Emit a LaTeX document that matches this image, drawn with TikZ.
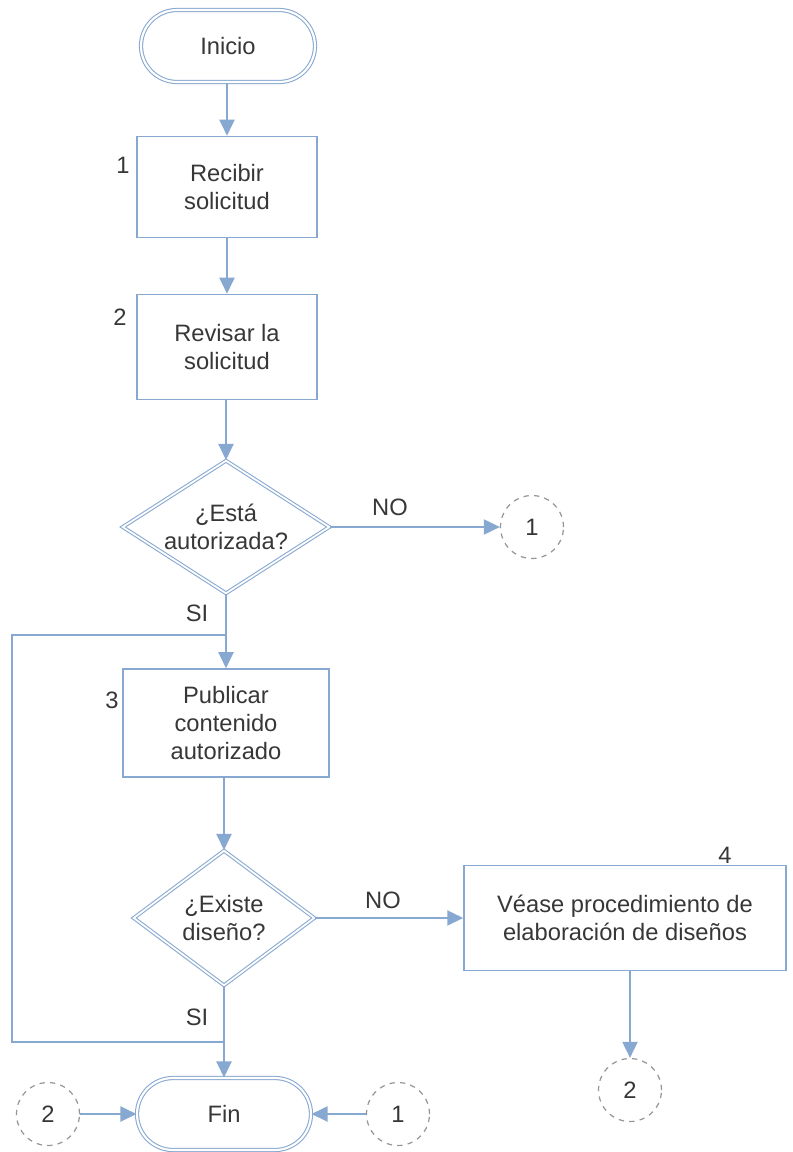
\documentclass[tikz,border=0pt]{standalone}
\usepackage{fontspec}
\setmainfont{Liberation Sans}
\usetikzlibrary{shapes.geometric, arrows.meta, positioning}
\definecolor{flowline}{RGB}{135, 168, 208}
\definecolor{conline}{RGB}{150, 150, 150}
\definecolor{txt}{RGB}{55, 55, 55}

\begin{document}
\begin{tikzpicture}[x=0.02cm, y=-0.02cm,
    every node/.style={font=\fontsize{13.5}{16}\selectfont, text=txt},
    term/.style={rectangle, rounded corners=0.72cm, draw=flowline, double=white,
                 double distance=1.2pt, line width=0.6pt,
                 minimum width=3.48cm, minimum height=1.44cm, align=center},
    proc/.style={rectangle, draw=flowline, line width=0.9pt, align=center, inner sep=0pt},
    decision/.style={diamond, draw=flowline, double=white, double distance=1pt,
                     line width=0.6pt, inner sep=0pt, align=center},
    conn/.style={circle, draw=conline, dashed, line width=0.7pt,
                 minimum size=1.26cm, inner sep=0pt},
    flow/.style={draw=flowline, line width=1.1pt,
                 -{Triangle[length=0.32cm, width=0.3cm]}},
    plain/.style={draw=flowline, line width=1.1pt}]

    \useasboundingbox (0,0) rectangle (792,1152);

    % Main column
    \node[term] (inicio) at (228, 46) {Inicio};
    \node[proc, minimum width=3.6cm, minimum height=2.02cm] (recibir) at (227, 187) {Recibir\\solicitud};
    \node[proc, minimum width=3.6cm, minimum height=2.1cm] (revisar) at (227, 347) {Revisar la\\solicitud};
    \node[decision, aspect=1.56, minimum width=4.14cm, minimum height=2.66cm] (autoriz) at (226, 527) {¿Está\\autorizada?};
    \node[proc, minimum width=4.12cm, minimum height=2.16cm] (publicar) at (226, 723) {Publicar\\contenido\\autorizado};
    \node[decision, aspect=1.34, minimum width=3.62cm, minimum height=2.7cm] (existe) at (224, 918) {¿Existe\\diseño?};
    \node[term] (fin) at (224, 1114) {Fin};

    % Side branch
    \node[proc, minimum width=6.44cm, minimum height=2.1cm] (elabora) at (625, 918) {Véase procedimiento de\\elaboración de diseños};

    % Connectors
    \node[conn] (cona) at (532, 527) {1};
    \node[conn] (conb) at (630, 1090) {2};
    \node[conn] (conc) at (48, 1114) {2};
    \node[conn] (cond) at (398, 1114) {1};

    % Step numbers
    \node at (123, 165) {1};
    \node at (120, 317) {2};
    \node at (112, 700) {3};
    \node at (725, 855) {4};

    % Arrows
    \draw[flow] (inicio.south -| recibir.north) -- (recibir);
    \draw[flow] (recibir) -- (revisar);
    \draw[flow] (revisar.south -| autoriz.north) -- (autoriz);
    \draw[flow] (autoriz) -- (cona);
    \draw[flow] (autoriz) -- (publicar);
    \draw[flow] (publicar.south -| existe.north) -- (existe);
    \draw[flow] (existe) -- (elabora);
    \draw[flow] (existe) -- (fin);
    \draw[flow] (elabora.south -| conb) -- (conb);
    \draw[flow] (conc) -- (fin);
    \draw[flow] (cond) -- (fin);

    % Loop line
    \coordinate (j1) at (226, 635);
    \coordinate (j2) at (224, 1042);
    \draw[plain] (j1) -- (12, 635) |- (j2);

    % Labels
    \node at (390, 507) {NO};
    \node at (383, 900) {NO};
    \node at (197, 613) {SI};
    \node at (197, 1017) {SI};
\end{tikzpicture}
\end{document}
